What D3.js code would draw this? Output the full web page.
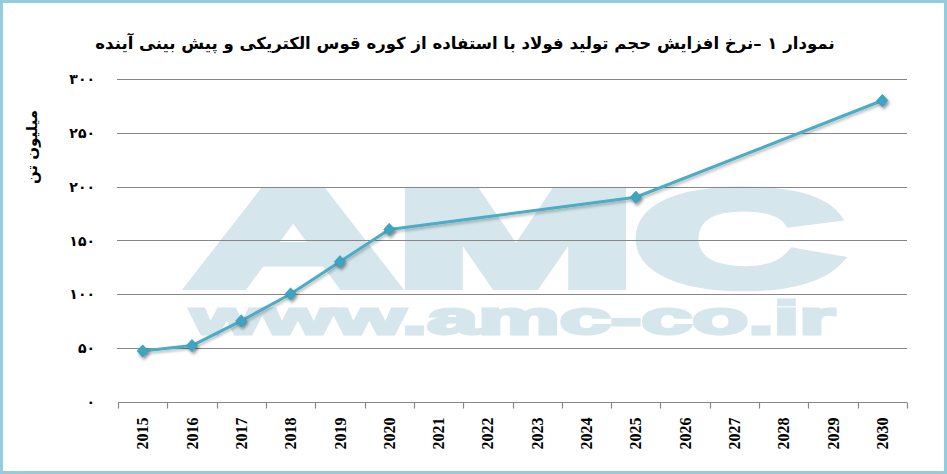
<!DOCTYPE html>
<html><head><meta charset="utf-8">
<script src="https://cdn.jsdelivr.net/npm/d3@7/dist/d3.min.js"></script>
<style>html,body{margin:0;padding:0;background:#fff;}svg{display:block;}</style>
</head><body>
<svg id="chart" width="947" height="474"></svg>
<script>
const categories = ["2015","2016","2017","2018","2019","2020","2021","2022","2023","2024","2025","2026","2027","2028","2029","2030"];
const pointYears = ["2015","2016","2017","2018","2019","2020","2025","2030"];
const pointValues = [47, 52, 75, 100, 130, 160, 190, 280];
const yTicks = [0, 50, 100, 150, 200, 250, 300];
const titleText = "نمودار ۱ –نرخ افزایش حجم تولید فولاد با استفاده از کوره قوس الکتریکی و پیش بینی آینده";
const yTitle = "میلیون تن";

const svg = d3.select("#chart");
const W = 947, H = 474;
const plot = {left: 118, right: 907, top: 79, bottom: 401.5};

const defs = svg.append("defs");
const f = defs.append("filter").attr("id","sh").attr("x","-50%").attr("y","-50%").attr("width","200%").attr("height","200%");
f.append("feDropShadow").attr("dx",1).attr("dy",2).attr("stdDeviation",1.8).attr("flood-color","#000").attr("flood-opacity",0.28);
const f2 = defs.append("filter").attr("id","sh2").attr("x","-80%").attr("y","-80%").attr("width","260%").attr("height","260%");
f2.append("feDropShadow").attr("dx",1.5).attr("dy",2.5).attr("stdDeviation",1.8).attr("flood-color","#000").attr("flood-opacity",0.4);

svg.append("rect").attr("x",1.5).attr("y",1.5).attr("width",W-3).attr("height",H-3)
  .attr("fill","#fff").attr("stroke","#93CDDD").attr("stroke-width",3);

// watermark
const wm = "#D5E6EC";
svg.append("text").attr("x",190).attr("y",285).attr("font-family","Liberation Sans, Arial, sans-serif")
  .attr("font-weight","bold").attr("font-size",134).attr("fill",wm).attr("stroke",wm).attr("stroke-width",10)
  .attr("stroke-linejoin","miter")
  .attr("textLength",651).attr("lengthAdjust","spacingAndGlyphs").text("AMC");
svg.append("text").attr("x",191).attr("y",334).attr("font-family","Liberation Sans, Arial, sans-serif")
  .attr("font-weight","bold").attr("font-size",46).attr("fill",wm).attr("stroke",wm).attr("stroke-width",3)
  .attr("textLength",644).attr("lengthAdjust","spacingAndGlyphs").text("www.amc-co.ir");

const x = d3.scaleBand().domain(categories).range([plot.left, plot.right]);
const y = d3.scaleLinear().domain([0, 300]).range([plot.bottom, plot.top]);

const faDigits = s => String(s).replace(/\d/g, d => "۰۱۲۳۴۵۶۷۸۹"[+d]);

// gridlines
svg.append("g").selectAll("line").data(yTicks.filter(v => v > 0)).join("line")
  .attr("x1", plot.left - 1).attr("x2", plot.right)
  .attr("y1", d => Math.round(y(d)) + 0.5).attr("y2", d => Math.round(y(d)) + 0.5)
  .attr("stroke","#878787").attr("stroke-width",1.2);

// y axis labels
const yAxis = d3.axisLeft(y).tickValues(yTicks).tickSize(0).tickPadding(0).tickFormat(faDigits);
const gy = svg.append("g").attr("transform", `translate(95,0)`).call(yAxis);
gy.select(".domain").remove();
gy.selectAll("text").attr("font-family","DejaVu Sans, sans-serif").attr("font-weight","bold")
  .attr("font-size",14).attr("fill","#000").attr("dy","0.35em");

// y title
svg.append("text").attr("transform","translate(32,147) rotate(-90)").attr("text-anchor","middle")
  .attr("dy","0.35em").attr("font-family","DejaVu Sans, sans-serif").attr("font-weight","bold")
  .attr("font-size",15).attr("fill","#000").text(yTitle);

// x axis
const gx = svg.append("g").attr("transform", `translate(0,${Math.round(plot.bottom)+0.5})`);
gx.append("line").attr("x1",plot.left).attr("x2",plot.right).attr("stroke","#878787").attr("stroke-width",1.2);
const bounds = categories.map(c => x(c)).concat([plot.right]);
gx.selectAll("line.tk").data(bounds).join("line").attr("class","tk")
  .attr("x1", d => Math.round(d)+0.5).attr("x2", d => Math.round(d)+0.5).attr("y1",0).attr("y2",6)
  .attr("stroke","#878787").attr("stroke-width",1.2);
gx.selectAll("text").data(categories).join("text")
  .attr("transform", d => `translate(${x(d) + x.bandwidth()/2},15) rotate(-90)`)
  .attr("text-anchor","end").attr("dy","0.35em")
  .attr("font-family","Liberation Serif, Times New Roman, serif").attr("font-weight","bold")
  .attr("font-size",16).attr("fill","#000").text(d => d);

// line
const pts = pointYears.map((yr, i) => ({yr, v: pointValues[i]}));
const line = d3.line().x(d => x(d.yr) + x.bandwidth()/2).y(d => y(d.v));
svg.append("path").datum(pts).attr("d", line).attr("fill","none")
  .attr("stroke","#4BACC6").attr("stroke-width",3).attr("stroke-linejoin","round").attr("filter","url(#sh)");
const diamond = { draw(ctx, size) { const w = 5.6, h = 6.2; ctx.moveTo(0,-h); ctx.lineTo(w,0); ctx.lineTo(0,h); ctx.lineTo(-w,0); ctx.closePath(); } };
svg.append("g").selectAll("path").data(pts).join("path")
  .attr("d", d3.symbol(diamond)())
  .attr("transform", d => `translate(${x(d.yr) + x.bandwidth()/2},${y(d.v)})`)
  .attr("fill","#3EA5C2").attr("stroke","#3596B2").attr("stroke-width",0.6).attr("filter","url(#sh2)");

// title
const t = svg.append("text").attr("x", 465).attr("y", 43).attr("text-anchor","middle").attr("dy","0.35em")
  .attr("direction","rtl").attr("font-family","DejaVu Sans, sans-serif").attr("font-weight","bold")
  .attr("font-size",18).attr("fill","#000").text(titleText);
const tw = t.node().getComputedTextLength();
if (tw > 0) t.attr("font-size", Math.min(22, 18 * 740 / tw));
</script>
</body></html>
